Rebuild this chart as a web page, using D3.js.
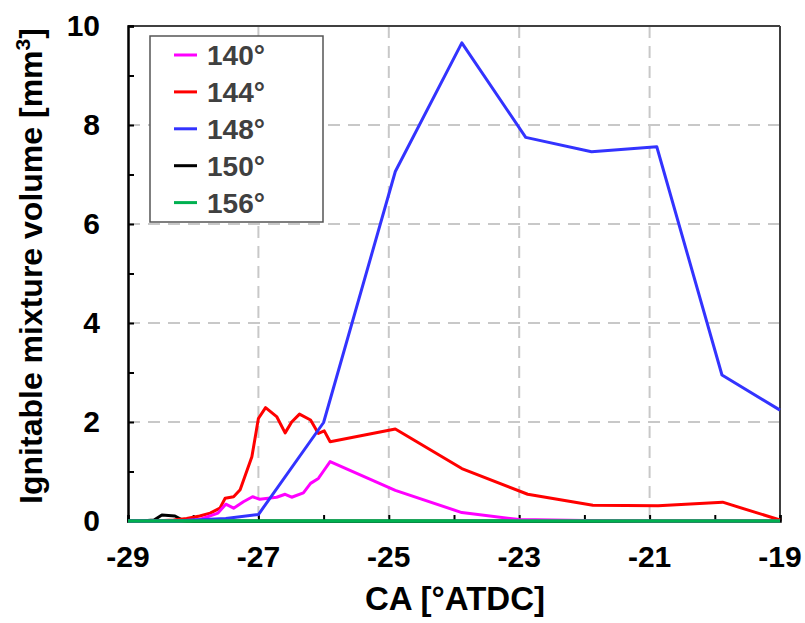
<!DOCTYPE html>
<html><head><meta charset="utf-8">
<script src="https://cdn.jsdelivr.net/npm/d3@7"></script>
<style>body{margin:0;background:#fff}svg{display:block}text{font-family:"Liberation Sans",Arial,sans-serif;font-weight:bold}</style>
</head><body><svg id="c" width="805" height="623"></svg>
<script>
const seriesNames = ["140°","144°","148°","150°","156°"];
const seriesColors = ["#ff00ff","#ff0000","#3333ff","#000000","#00b050"];

const x140 = [-29,-28.6,-28.2,-27.9,-27.62,-27.5,-27.38,-27.23,-27.09,-26.98,-26.72,-26.59,-26.49,-26.31,-26.2,-26.08,-25.99,-25.9,-24.9,-23.88,-23.0,-22,-21,-20,-19];
const y140 = [0,0,0,0.03,0.16,0.34,0.26,0.39,0.49,0.44,0.48,0.54,0.48,0.57,0.76,0.86,1.03,1.2,0.62,0.17,0.03,0.01,0,0,0];

const x144 = [-29,-28.6,-28.3,-28.1,-27.9,-27.74,-27.59,-27.51,-27.38,-27.28,-27.1,-27.0,-26.89,-26.72,-26.59,-26.49,-26.37,-26.2,-26.08,-25.99,-25.9,-24.9,-23.88,-22.87,-21.87,-20.87,-19.88,-19];
const y144 = [0,0,0.02,0.05,0.1,0.16,0.26,0.46,0.49,0.63,1.3,2.07,2.29,2.11,1.78,2.0,2.16,2.04,1.77,1.82,1.6,1.86,1.06,0.54,0.32,0.31,0.38,0.02];

const x148 = [-29,-28.3,-27.5,-27.0,-26.0,-24.9,-23.88,-22.9,-21.89,-20.89,-19.89,-19];
const y148 = [0,0,0.05,0.13,1.99,7.06,9.66,7.75,7.46,7.56,2.95,2.24];

const x150 = [-29,-28.8,-28.6,-28.48,-28.28,-28.18,-28.0,-22,-19];
const y150 = [0,0,0.02,0.12,0.1,0.03,0,0,0];

const x156 = [-29,-19];
const y156 = [0,0];

const xTicks = [-29,-27,-25,-23,-21,-19];
const yTicks = [0,2,4,6,8,10];

const svg = d3.select("#c");
const L=128,R=780,T=26,B=521;
const x = d3.scaleLinear().domain([-29,-19]).range([L,R]);
const y = d3.scaleLinear().domain([0,10]).range([B,T]);

// grid
const g = svg.append("g");
g.selectAll(".vg").data([-27,-25,-23,-21]).join("line")
 .attr("x1",d=>x(d)).attr("x2",d=>x(d)).attr("y1",T).attr("y2",B)
 .attr("stroke","#c8c8c8").attr("stroke-width",2).attr("stroke-dasharray","12,8");
g.selectAll(".hg").data([2,4,6,8]).join("line")
 .attr("x1",L).attr("x2",R).attr("y1",d=>y(d)).attr("y2",d=>y(d))
 .attr("stroke","#c8c8c8").attr("stroke-width",2).attr("stroke-dasharray","12,8");

// frame top/right
svg.append("line").attr("x1",L).attr("x2",R).attr("y1",T).attr("y2",T).attr("stroke","#404040").attr("stroke-width",2);
svg.append("line").attr("x1",R).attr("x2",R).attr("y1",T).attr("y2",B).attr("stroke","#404040").attr("stroke-width",2);

// axes
const xAxis = d3.axisBottom(x).tickValues(d3.range(-29,-18,1)).tickSize(-6).tickFormat("");
const xa = svg.append("g").attr("transform",`translate(0,${B})`).call(xAxis);
xa.select(".domain").attr("stroke","#000").attr("stroke-width",2.5);
xa.selectAll(".tick line").attr("stroke","#000").attr("stroke-width",2);
const yAxis = d3.axisLeft(y).tickValues(d3.range(0,11,1)).tickSize(-6).tickFormat("");
const ya = svg.append("g").attr("transform",`translate(${L},0)`).call(yAxis);
ya.select(".domain").attr("stroke","#000").attr("stroke-width",2.5);
ya.selectAll(".tick line").attr("stroke","#000").attr("stroke-width",2);

svg.selectAll(".xl").data(xTicks).join("text")
 .attr("x",d=>x(d)).attr("y",B+46).attr("text-anchor","middle")
 .attr("font-size",30).attr("fill","#000").text(d=>d);
svg.selectAll(".yl").data(yTicks).join("text")
 .attr("x",100).attr("y",d=>y(d)+10).attr("text-anchor","end")
 .attr("font-size",30).attr("fill","#000").text(d=>d);

// titles
svg.append("text").attr("x",455).attr("y",610).attr("text-anchor","middle")
 .attr("font-size",33).attr("fill","#000").text("CA [°ATDC]");
const yt = svg.append("text").attr("transform","translate(42,266) rotate(-90)")
 .attr("text-anchor","middle").attr("font-size",32).attr("fill","#000");
yt.append("tspan").text("Ignitable mixture volume [mm");
yt.append("tspan").attr("dy",-12).attr("font-size",21).text("3");
yt.append("tspan").attr("dy",12).text("]");

// lines
const xs=[x140,x144,x148,x150,x156], ys=[y140,y144,y148,y150,y156];
const line = d3.line().x(d=>x(d[0])).y(d=>y(d[1]));
const order=[3,1,0,2,4];
order.forEach(i=>{
  const pts = xs[i].map((v,j)=>[v,ys[i][j]]);
  svg.append("path").datum(pts).attr("d",line).attr("fill","none")
   .attr("stroke",seriesColors[i]).attr("stroke-width",i===4?3.5:3).attr("stroke-linejoin","round");
});

// legend
const lg = svg.append("g");
lg.append("rect").attr("x",150).attr("y",36).attr("width",173).attr("height",186)
 .attr("fill","#fff").attr("stroke","#555").attr("stroke-width",1.5);
seriesNames.forEach((n,i)=>{
  const cy = 55 + i*36.9;
  lg.append("line").attr("x1",174).attr("x2",197).attr("y1",cy).attr("y2",cy)
   .attr("stroke",seriesColors[i]).attr("stroke-width",3);
  lg.append("text").attr("x",207).attr("y",cy+10).attr("font-size",28)
   .attr("fill","#404040").text(n);
});
</script></body></html>
